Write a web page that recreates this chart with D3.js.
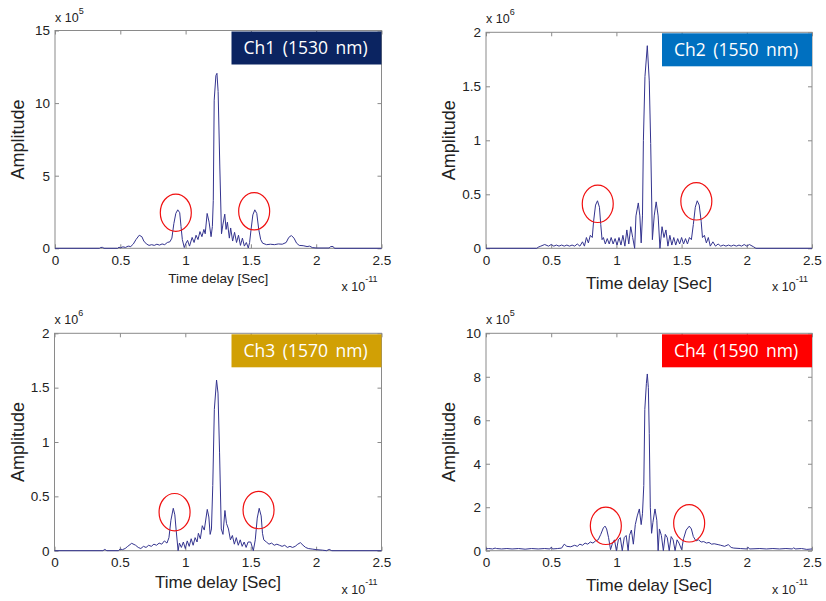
<!DOCTYPE html>
<html>
<head>
<meta charset="utf-8">
<script src="https://cdn.jsdelivr.net/npm/d3@7"></script>
<style>
  body { margin: 0; background: #fff; }
  text { font-family: "Liberation Sans", Arial, sans-serif; }
</style>
</head>
<body>
<svg id="chart" width="826" height="601"></svg>
<script>
// time delay in units of 1e-11 s, amplitude in units of the panel exponent
const ch1Trace = [[0,0],[0.34,0],[0.35,0.06],[0.365,0.06],[0.375,0],[0.48,0],[0.49,0.08],[0.5,0.03],[0.52,0.1],[0.54,0.06],[0.56,0.15],[0.58,0.12],[0.6,0.3],[0.62,0.6],[0.645,0.9],[0.665,0.8],[0.68,0.5],[0.7,0.3],[0.72,0.2],[0.74,0.25],[0.76,0.2],[0.78,0.28],[0.8,0.22],[0.82,0.3],[0.84,0.25],[0.86,0.4],[0.88,0.45],[0.895,0.7],[0.91,1.7],[0.925,2.4],[0.94,2.65],[0.955,2.45],[0.965,1.5],[0.975,0.6],[0.99,0.05],[1.0,0.3],[1.015,0.55],[1.03,0.15],[1.05,0.75],[1.065,0.4],[1.08,0.9],[1.095,0.6],[1.11,1.15],[1.125,0.8],[1.14,1.3],[1.15,1.0],[1.165,2.4],[1.18,1.8],[1.195,0.8],[1.205,1.5],[1.212,3.3],[1.219,10.2],[1.232,11.9],[1.24,12.05],[1.249,10.8],[1.262,5.6],[1.275,1.0],[1.285,1.6],[1.3,2.35],[1.31,1.3],[1.32,1.8],[1.335,0.7],[1.345,1.4],[1.36,0.5],[1.375,1.1],[1.39,0.4],[1.405,0.9],[1.42,0.2],[1.435,0.7],[1.45,0.15],[1.465,0.4],[1.48,0.02],[1.49,0.4],[1.5,1.2],[1.515,2.3],[1.53,2.65],[1.545,2.4],[1.56,1.3],[1.575,0.6],[1.59,0.35],[1.62,0.25],[1.65,0.28],[1.68,0.25],[1.71,0.3],[1.74,0.28],[1.77,0.4],[1.79,0.75],[1.81,0.88],[1.83,0.7],[1.85,0.35],[1.87,0.2],[1.9,0.18],[1.93,0.12],[1.95,0.15],[1.97,0.05],[2.0,0.02],[2.1,0.02],[2.11,0.12],[2.13,0.12],[2.14,0],[2.5,0]];

const ch2Trace = [[0,0],[0.39,0],[0.4,0.01],[0.42,0.02],[0.45,0.035],[0.48,0.02],[0.5,0.035],[0.52,0.02],[0.54,0.03],[0.56,0.02],[0.58,0.03],[0.6,0.02],[0.62,0.03],[0.64,0.02],[0.66,0.03],[0.68,0.02],[0.7,0.04],[0.72,0.02],[0.74,0.06],[0.755,0.02],[0.77,0.1],[0.785,0.05],[0.8,0.12],[0.815,0.1],[0.825,0.25],[0.84,0.4],[0.855,0.44],[0.87,0.38],[0.88,0.22],[0.89,0.08],[0.9,0.1],[0.915,0.04],[0.93,0.09],[0.945,0.04],[0.96,0.1],[0.975,0.04],[0.99,0.09],[1.005,0.03],[1.02,0.1],[1.035,0.03],[1.05,0.12],[1.065,0.02],[1.08,0.17],[1.095,0.04],[1.11,0.2],[1.125,0.1],[1.14,0.0],[1.15,0.3],[1.168,0.42],[1.18,0.3],[1.19,0.05],[1.2,0.3],[1.207,1.0],[1.219,1.59],[1.237,1.876],[1.252,1.55],[1.263,0.97],[1.276,0.08],[1.29,0.3],[1.305,0.43],[1.32,0.3],[1.334,0.0],[1.35,0.2],[1.365,0.1],[1.38,0.17],[1.395,0.02],[1.41,0.12],[1.425,0.03],[1.44,0.1],[1.455,0.03],[1.47,0.09],[1.485,0.04],[1.5,0.1],[1.515,0.04],[1.53,0.09],[1.545,0.04],[1.56,0.1],[1.575,0.08],[1.59,0.22],[1.605,0.38],[1.62,0.44],[1.635,0.4],[1.65,0.25],[1.66,0.1],[1.675,0.12],[1.69,0.05],[1.705,0.1],[1.72,0.02],[1.74,0.06],[1.76,0.02],[1.78,0.04],[1.8,0.02],[1.82,0.03],[1.84,0.02],[1.86,0.03],[1.88,0.02],[1.9,0.03],[1.92,0.02],[1.94,0.03],[1.96,0.02],[1.98,0.035],[2.0,0.02],[2.02,0.035],[2.05,0.015],[2.07,0.0],[2.5,0]];

const ch3Trace = [[0,0],[0.37,0],[0.385,0.012],[0.4,0],[0.49,0],[0.5,0.015],[0.52,0.01],[0.54,0.02],[0.56,0.04],[0.59,0.068],[0.62,0.05],[0.64,0.03],[0.66,0.02],[0.68,0.04],[0.7,0.03],[0.72,0.05],[0.74,0.04],[0.76,0.06],[0.78,0.05],[0.8,0.07],[0.82,0.06],[0.84,0.09],[0.86,0.07],[0.875,0.12],[0.89,0.28],[0.908,0.39],[0.92,0.33],[0.93,0.19],[0.945,0.0],[0.955,0.07],[0.97,0.03],[0.985,0.08],[1.0,0.02],[1.015,0.09],[1.03,0.04],[1.045,0.11],[1.06,0.05],[1.075,0.12],[1.09,0.08],[1.1,0.16],[1.115,0.11],[1.13,0.23],[1.145,0.19],[1.168,0.38],[1.18,0.31],[1.19,0.15],[1.2,0.2],[1.21,0.6],[1.222,1.3],[1.239,1.57],[1.25,1.45],[1.262,0.9],[1.275,0.2],[1.288,0.15],[1.303,0.37],[1.315,0.25],[1.33,0.2],[1.345,0.1],[1.36,0.14],[1.375,0.06],[1.39,0.12],[1.405,0.05],[1.42,0.1],[1.435,0.04],[1.45,0.08],[1.465,0.03],[1.48,0.08],[1.5,0.08],[1.52,0.0],[1.535,0.1],[1.55,0.3],[1.565,0.39],[1.58,0.32],[1.59,0.16],[1.6,0.1],[1.62,0.08],[1.64,0.06],[1.66,0.07],[1.68,0.05],[1.7,0.06],[1.72,0.05],[1.74,0.04],[1.76,0.05],[1.78,0.03],[1.8,0.04],[1.82,0.03],[1.84,0.04],[1.86,0.06],[1.88,0.074],[1.9,0.05],[1.92,0.03],[1.94,0.02],[1.97,0.015],[2.0,0.01],[2.05,0.005],[2.08,0],[2.1,0.012],[2.12,0],[2.5,0]];

const ch4Trace = [[0,0.08],[0.02,0.1],[0.05,0.08],[0.07,0.12],[0.08,0.1],[0.12,0.08],[0.16,0.1],[0.2,0.08],[0.25,0.1],[0.3,0.07],[0.35,0.1],[0.4,0.08],[0.45,0.1],[0.49,0.08],[0.5,0.16],[0.51,0.08],[0.55,0.1],[0.58,0.12],[0.6,0.3],[0.62,0.2],[0.65,0.18],[0.68,0.25],[0.7,0.2],[0.72,0.3],[0.74,0.25],[0.76,0.35],[0.78,0.3],[0.8,0.4],[0.82,0.35],[0.84,0.45],[0.86,0.5],[0.88,0.75],[0.9,1.05],[0.913,1.13],[0.925,1.0],[0.94,0.6],[0.955,0.05],[0.97,0.35],[0.985,0.5],[1.0,0.0],[1.015,0.5],[1.03,0.6],[1.045,0.0],[1.06,0.6],[1.075,0.7],[1.09,0.0],[1.1,0.7],[1.115,0.95],[1.13,0.3],[1.145,1.2],[1.16,1.6],[1.176,1.92],[1.19,1.2],[1.2,1.7],[1.21,3.0],[1.218,6.5],[1.23,7.7],[1.237,8.13],[1.245,7.5],[1.252,5.4],[1.26,2.0],[1.27,0.8],[1.28,1.3],[1.296,1.92],[1.31,1.4],[1.32,0.0],[1.33,1.0],[1.345,0.7],[1.36,0.0],[1.375,0.75],[1.39,0.6],[1.405,0.0],[1.42,0.65],[1.435,0.5],[1.45,0.0],[1.465,0.5],[1.48,0.35],[1.5,0.05],[1.515,0.55],[1.535,0.95],[1.559,1.13],[1.575,1.0],[1.59,0.65],[1.61,0.45],[1.63,0.5],[1.65,0.4],[1.67,0.42],[1.69,0.35],[1.71,0.38],[1.73,0.3],[1.75,0.32],[1.78,0.28],[1.8,0.25],[1.83,0.2],[1.858,0.28],[1.88,0.15],[1.9,0.12],[1.95,0.1],[2.0,0.08],[2.01,0.16],[2.02,0.08],[2.1,0.1],[2.15,0.08],[2.2,0.1],[2.25,0.08],[2.3,0.1],[2.35,0.08],[2.36,0.14],[2.37,0.08],[2.42,0.1],[2.46,0.06],[2.5,0.08]];

// red ellipses around the side peaks: [delay, amplitude]
const ch1Marks = [[0.925, 2.45], [1.525, 2.55]];
const ch2Marks = [[0.857, 0.412], [1.613, 0.435]];
const ch3Marks = [[0.918, 0.354], [1.56, 0.374]];
const ch4Marks = [[0.919, 1.145], [1.558, 1.26]];

const xTicks = [0, 0.5, 1, 1.5, 2, 2.5];
const ch1YTicks = [0, 5, 10, 15];
const ch2YTicks = [0, 0.5, 1, 1.5, 2];
const ch3YTicks = [0, 0.5, 1, 1.5, 2];
const ch4YTicks = [0, 2, 4, 6, 8, 10];

const titles = ["Ch1 (1530 nm)", "Ch2 (1550 nm)", "Ch3 (1570 nm)", "Ch4 (1590 nm)"];
const titleColors = ["#0b2461", "#0070c0", "#d1a005", "#ff0000"];
const yExponents = ["5", "6", "6", "5"];

const panels = [
  { trace: ch1Trace, marks: ch1Marks, yTicks: ch1YTicks, left: 55, top: 30.5, right: 381.5, bottom: 248.3, xlabSize: 13.5, xlabY: 283 },
  { trace: ch2Trace, marks: ch2Marks, yTicks: ch2YTicks, left: 486, top: 32.3, right: 812, bottom: 248.3, xlabSize: 17, xlabY: 289 },
  { trace: ch3Trace, marks: ch3Marks, yTicks: ch3YTicks, left: 54.5, top: 333.3, right: 381.5, bottom: 550.7, xlabSize: 17, xlabY: 587.5 },
  { trace: ch4Trace, marks: ch4Marks, yTicks: ch4YTicks, left: 486, top: 333.3, right: 812, bottom: 550.7, xlabSize: 17, xlabY: 590.5 }
];

const frameColor = "#8a8a8a";
const svg = d3.select("#chart");
svg.append("rect").attr("width", 826).attr("height", 601).attr("fill", "#fff");

panels.forEach((p, i) => {
  const g = svg.append("g");
  const yMax = p.yTicks[p.yTicks.length - 1];

  const x = d3.scaleLinear().domain([0, 2.5]).range([p.left, p.right]);
  const y = d3.scaleLinear().domain([0, yMax]).range([p.bottom, p.top]);

  // axes with inward ticks, like matlab
  const styleAxis = sel => {
    sel.select(".domain").remove();
    sel.selectAll(".tick line").attr("stroke", frameColor);
    sel.selectAll(".tick text")
      .attr("fill", "#222")
      .style("font-size", "13.5px");
  };

  g.append("g")
    .attr("transform", `translate(0,${p.bottom})`)
    .call(d3.axisBottom(x).tickValues(xTicks).tickFormat(d => String(d))
      .tickSizeInner(-4).tickSizeOuter(0).tickPadding(7))
    .call(styleAxis);
  g.append("g")
    .attr("transform", `translate(0,${p.top})`)
    .call(d3.axisTop(x).tickValues(xTicks).tickFormat("")
      .tickSizeInner(-4).tickSizeOuter(0))
    .call(styleAxis);
  g.append("g")
    .attr("transform", `translate(${p.left},0)`)
    .call(d3.axisLeft(y).tickValues(p.yTicks).tickFormat(d => String(d))
      .tickSizeInner(-4).tickSizeOuter(0).tickPadding(5))
    .call(styleAxis);
  g.append("g")
    .attr("transform", `translate(${p.right},0)`)
    .call(d3.axisRight(y).tickValues(p.yTicks).tickFormat("")
      .tickSizeInner(-4).tickSizeOuter(0))
    .call(styleAxis);

  g.append("rect")
    .attr("x", p.left).attr("y", p.top)
    .attr("width", p.right - p.left).attr("height", p.bottom - p.top)
    .attr("fill", "none").attr("stroke", frameColor).attr("stroke-width", 1);

  // signal trace
  const line = d3.line().x(d => x(d[0])).y(d => y(d[1]));
  g.append("path")
    .datum(p.trace)
    .attr("d", line)
    .attr("fill", "none")
    .attr("stroke", "#34348f")
    .attr("stroke-width", 1);

  // red ellipses
  g.selectAll("ellipse.mark")
    .data(p.marks)
    .enter()
    .append("ellipse")
    .attr("class", "mark")
    .attr("cx", d => x(d[0]))
    .attr("cy", d => y(d[1]))
    .attr("rx", 15.5)
    .attr("ry", 18.7)
    .attr("fill", "none")
    .attr("stroke", "#f01010")
    .attr("stroke-width", 1.2);

  // channel title box
  const boxW = 150, boxH = 33;
  g.append("rect")
    .attr("x", p.right - boxW).attr("y", p.top + 1)
    .attr("width", boxW).attr("height", boxH)
    .attr("fill", titleColors[i]);
  g.append("text")
    .attr("x", p.right - boxW / 2 - 1)
    .attr("y", p.top + 1 + boxH / 2)
    .attr("dy", "0.36em")
    .attr("text-anchor", "middle")
    .attr("fill", "#fff")
    .style("font-family", "'Open Sans', 'Noto Sans', sans-serif")
    .style("font-size", "17.5px")
    .style("word-spacing", "3px")
    .text(titles[i]);

  // y exponent
  const ye = g.append("text")
    .attr("x", p.left)
    .attr("y", p.top - 9)
    .attr("fill", "#222")
    .style("font-size", "12.5px")
    .text("x 10");
  ye.append("tspan").attr("dy", -8).style("font-size", "9px").text(yExponents[i]);

  // x exponent
  const xe = g.append("text")
    .attr("x", p.right - 40)
    .attr("y", p.bottom + 43)
    .attr("fill", "#222")
    .style("font-size", "12.5px")
    .text("x 10");
  xe.append("tspan").attr("dy", -9).style("font-size", "9px").text("-11");

  // axis titles
  g.append("text")
    .attr("x", (p.left + p.right) / 2)
    .attr("y", p.xlabY)
    .attr("text-anchor", "middle")
    .attr("fill", "#222")
    .style("font-size", p.xlabSize + "px")
    .text("Time delay [Sec]");

  g.append("text")
    .attr("transform", `translate(${p.left - 31},${(p.top + p.bottom) / 2}) rotate(-90)`)
    .attr("text-anchor", "middle")
    .attr("fill", "#222")
    .style("font-size", "18px")
    .text("Amplitude");
});
</script>
</body>
</html>
